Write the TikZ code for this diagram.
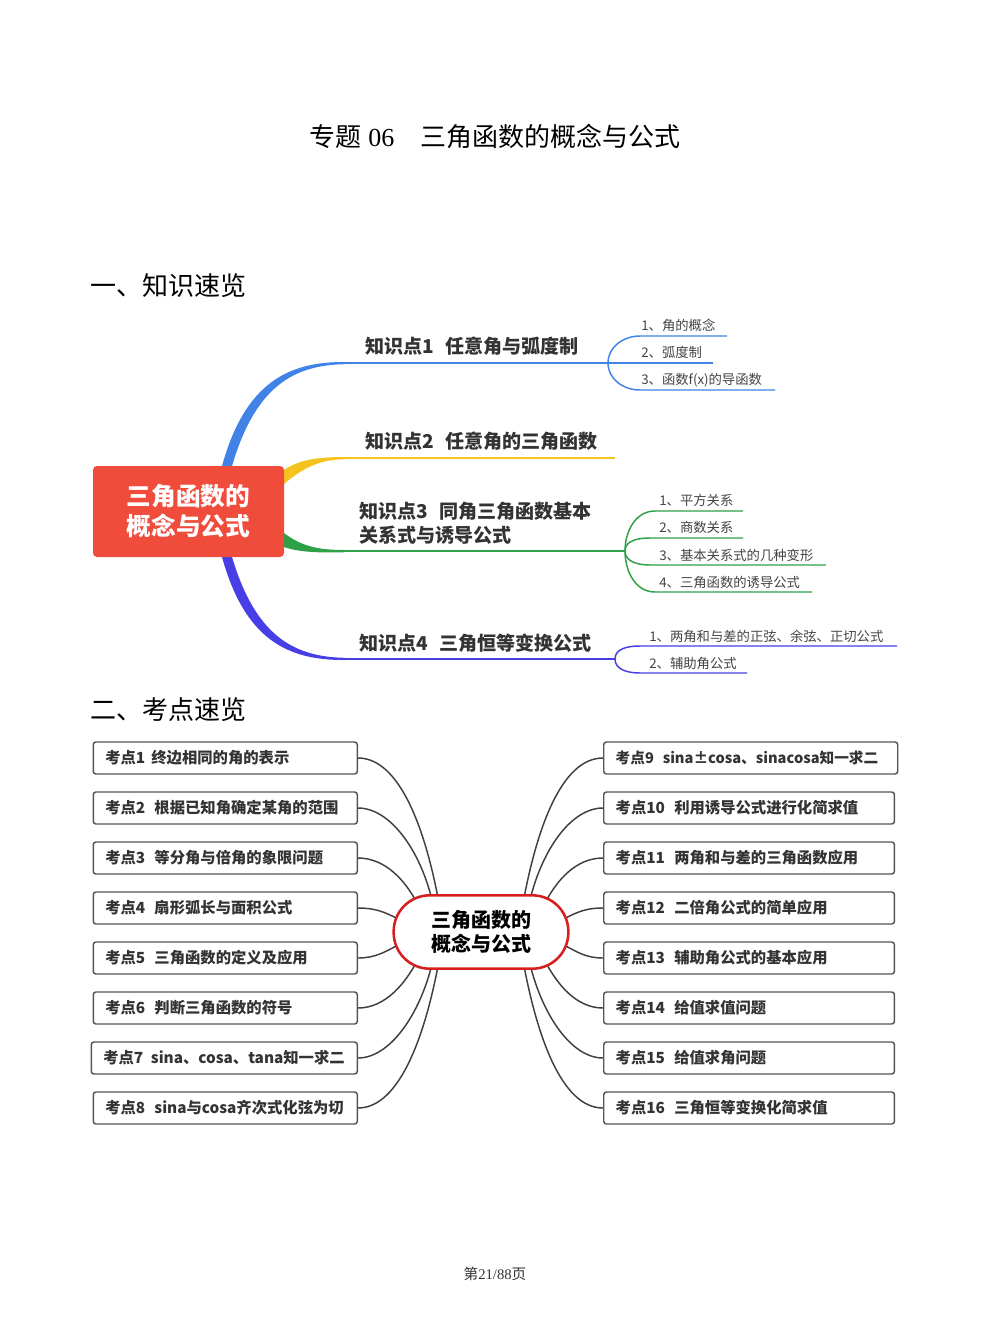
\documentclass[tikz,border=0pt]{standalone}
\usepackage{fontspec}
\setmainfont{Noto Sans CJK SC}
\newfontfamily\serifdigits{Liberation Serif}
\usetikzlibrary{calc}
\pgfdeclarelayer{bg}
\pgfdeclarelayer{links}
\pgfsetlayers{bg,links,main}
\definecolor{rootred}{RGB}{240,76,60}
\definecolor{bblue}{RGB}{64,130,230}
\definecolor{byellow}{RGB}{245,195,30}
\definecolor{bgreen}{RGB}{46,160,70}
\definecolor{bindigo}{RGB}{72,62,230}
\definecolor{labelgray}{RGB}{51,51,51}
\definecolor{itemgray}{RGB}{68,68,68}
\definecolor{boxgray}{RGB}{85,85,85}
\definecolor{linkgray}{RGB}{64,64,64}
\definecolor{corered}{RGB}{215,30,30}
\tikzset{
  headtxt/.style={anchor=west, inner sep=0, text=black, font=\fontsize{19.5}{22}\selectfont},
  rootbox/.style={fill=rootred, rounded corners=3pt, minimum width=143.25pt, minimum height=68.25pt,
    text=white, font=\bfseries\fontsize{18.5}{22.5}\selectfont, align=center, inner sep=0},
  lbl/.style={anchor=west, inner sep=0, text=labelgray, font=\bfseries\fontsize{14.3}{18}\selectfont},
  itemtxt/.style={anchor=west, inner sep=0, text=itemgray, font=\fontsize{10}{12}\selectfont},
  trunk/.style={line width=1.5pt},
  twig/.style={line width=1.1pt},
  kbox/.style={draw=boxgray, line width=1.1pt, rounded corners=2pt, fill=white, minimum height=24pt,
    inner xsep=9pt, inner ysep=0pt, text=labelgray, font=\bfseries\fontsize{11.5}{13}\selectfont, align=left},
  lbox/.style={kbox, text width=180pt, anchor=east},
  rbox/.style={kbox, text width=200pt, anchor=west},
  corebox/.style={draw=corered, line width=1.9pt, fill=white, rounded corners=27pt,
    minimum width=131pt, minimum height=55pt, font=\bfseries\fontsize{15}{18}\selectfont,
    text=black, align=center, inner sep=0},
  link/.style={draw=linkgray, line width=1.1pt}
}
\begin{document}
\begin{tikzpicture}[x=0.75pt,y=-0.75pt]
\useasboundingbox (0,0) rectangle (990,1320);
\begin{pgfonlayer}{bg}
\fill[white] (0,0) rectangle (990,1320);
\end{pgfonlayer}

% title and headings
\node[inner sep=0, text=black, font=\fontsize{19.5}{22}\selectfont] (title) at (495,137)
  {专题\hspace{0.25em}{\serifdigits 06}\hspace{1em}三角函数的概念与公式};
\node[headtxt] (h1) at (90,286) {一、知识速览};
\node[headtxt] (h2) at (90,710) {二、考点速览};

% ---------- mind map 1 ----------
\coordinate (j1) at (608,363);
\coordinate (j2) at (615,458);
\coordinate (j3) at (625,551);
\coordinate (j4) at (615,659);

% tapered roots
\fill[bblue] (222,466) .. controls (245,383) and (288,361.6) .. (345,362) -- (345,364.2)
  .. controls (292,365) and (255,388) .. (232,466) -- cycle;
\fill[byellow] (284,470) .. controls (300,459) and (320,457) .. (345,457) -- (345,459.2)
  .. controls (322,459.5) and (305,466) .. (284,484) -- cycle;
\fill[bgreen] (284,533) .. controls (302,547) and (320,550) .. (345,550) -- (345,552.2)
  .. controls (318,553) and (298,552) .. (284,547) -- cycle;
\fill[bindigo] (222,557) .. controls (245,640) and (288,660.4) .. (345,660) -- (345,657.8)
  .. controls (292,657) and (255,634) .. (232,557) -- cycle;

\draw[bblue, trunk] (345,363) -- (j1);
\draw[byellow, trunk] (345,458) -- (j2);
\draw[bgreen, trunk] (345,551) -- (j3);
\draw[bindigo, trunk] (345,659) -- (j4);

% sub branches
\draw[bblue, twig] (j1) to[out=90,in=180] (640,336) -- (727,336);
\draw[bblue, twig] (j1) -- (713,363);
\draw[bblue, twig] (j1) to[out=-90,in=180] (640,390) -- (775,390);

\draw[bgreen, twig] (j3) to[out=90,in=180] (655,511) -- (743,511);
\draw[bgreen, twig] (j3) to[out=90,in=180] (650,538) -- (743,538);
\draw[bgreen, twig] (j3) to[out=-90,in=180] (650,565) -- (826,565);
\draw[bgreen, twig] (j3) to[out=-90,in=180] (655,592) -- (812,592);

\draw[bindigo, twig] (j4) to[out=90,in=180] (640,646) -- (897,646);
\draw[bindigo, twig] (j4) to[out=-90,in=180] (640,673) -- (747,673);

\node[rootbox] (root) at (188.5,511.5) {三角函数的\\概念与公式};

\node[lbl] (k1) at (365,346) {知识点1\hspace{0.6em}任意角与弧度制};
\node[lbl] (k2) at (365,441) {知识点2\hspace{0.6em}任意角的三角函数};
\node[lbl, align=left] (k3) at (359,523) {知识点3\hspace{0.6em}同角三角函数基本\\关系式与诱导公式};
\node[lbl] (k4) at (359,643) {知识点4\hspace{0.6em}三角恒等变换公式};

\node[itemtxt] (s11) at (641,325) {1、角的概念};
\node[itemtxt] (s12) at (641,352) {2、弧度制};
\node[itemtxt] (s13) at (641,380) {3、函数f(x)的导函数};
\node[itemtxt] (s31) at (659,500) {1、平方关系};
\node[itemtxt] (s32) at (659,527) {2、商数关系};
\node[itemtxt] (s33) at (659,555) {3、基本关系式的几种变形};
\node[itemtxt] (s34) at (659,582) {4、三角函数的诱导公式};
\node[itemtxt] (s41) at (649,636) {1、两角和与差的正弦、余弦、正切公式};
\node[itemtxt] (s42) at (649,663) {2、辅助角公式};

% ---------- mind map 2 ----------
\node[corebox] (core) at (481,932) {三角函数的\\概念与公式};

\node[lbox] (b1) at (358,758) {考点1\hspace{0.4em}终边相同的角的表示};
\node[lbox] (b2) at (358,808) {考点2\hspace{0.6em}根据已知角确定某角的范围};
\node[lbox] (b3) at (358,858) {考点3\hspace{0.6em}等分角与倍角的象限问题};
\node[lbox] (b4) at (358,908) {考点4\hspace{0.6em}扇形弧长与面积公式};
\node[lbox] (b5) at (358,958) {考点5\hspace{0.6em}三角函数的定义及应用};
\node[lbox] (b6) at (358,1008) {考点6\hspace{0.6em}判断三角函数的符号};
\node[lbox, text width=181.5pt] (b7) at (358,1058) {\mbox{考点7\hspace{0.5em}sina、cosa、tana知一求二}};
\node[lbox] (b8) at (358,1108) {\mbox{考点8\hspace{0.6em}sina与cosa齐次式化弦为切}};

\node[rbox, text width=202.5pt, font=\bfseries\fontsize{11}{13}\selectfont] (b9) at (603,758) {\mbox{考点9\hspace{0.6em}sina±cosa、sinacosa知一求二}};
\node[rbox] (b10) at (603,808) {考点10\hspace{0.6em}利用诱导公式进行化简求值};
\node[rbox] (b11) at (603,858) {考点11\hspace{0.6em}两角和与差的三角函数应用};
\node[rbox] (b12) at (603,908) {考点12\hspace{0.6em}二倍角公式的简单应用};
\node[rbox] (b13) at (603,958) {考点13\hspace{0.6em}辅助角公式的基本应用};
\node[rbox] (b14) at (603,1008) {考点14\hspace{0.6em}给值求值问题};
\node[rbox] (b15) at (603,1058) {考点15\hspace{0.6em}给值求角问题};
\node[rbox] (b16) at (603,1108) {考点16\hspace{0.6em}三角恒等变换化简求值};

\begin{pgfonlayer}{links}
\draw[link] (b1.east) .. controls +(42,0) and +(-13,-68) .. ($(core.center)+(-43,-34)$);
\draw[link] (b2.east) .. controls +(32,0) and +(-12,-50) .. ($(core.center)+(-49,-32)$);
\draw[link] (b3.east) .. controls +(27,0) and +(-12,-23) .. ($(core.center)+(-64,-29)$);
\draw[link] (b4.east) .. controls +(17,0) and +(-13,-7) .. ($(core.center)+(-83,-13)$);
\draw[link] (b5.east) .. controls +(17,0) and +(-13,7) .. ($(core.center)+(-83,13)$);
\draw[link] (b6.east) .. controls +(27,0) and +(-12,23) .. ($(core.center)+(-64,29)$);
\draw[link] (b7.east) .. controls +(32,0) and +(-12,50) .. ($(core.center)+(-49,32)$);
\draw[link] (b8.east) .. controls +(42,0) and +(-13,68) .. ($(core.center)+(-43,34)$);

\draw[link] (b9.west) .. controls +(-42,0) and +(13,-68) .. ($(core.center)+(43,-34)$);
\draw[link] (b10.west) .. controls +(-32,0) and +(12,-50) .. ($(core.center)+(49,-32)$);
\draw[link] (b11.west) .. controls +(-27,0) and +(12,-23) .. ($(core.center)+(64,-29)$);
\draw[link] (b12.west) .. controls +(-17,0) and +(13,-7) .. ($(core.center)+(83,-13)$);
\draw[link] (b13.west) .. controls +(-17,0) and +(13,7) .. ($(core.center)+(83,13)$);
\draw[link] (b14.west) .. controls +(-27,0) and +(12,23) .. ($(core.center)+(64,29)$);
\draw[link] (b15.west) .. controls +(-32,0) and +(12,50) .. ($(core.center)+(49,32)$);
\draw[link] (b16.west) .. controls +(-42,0) and +(13,68) .. ($(core.center)+(43,34)$);
\end{pgfonlayer}

% footer
\node[inner sep=0, text=labelgray, font=\fontsize{11}{13}\selectfont] (foot) at (495,1274)
  {第{\serifdigits 21/88}页};
\end{tikzpicture}
\end{document}
